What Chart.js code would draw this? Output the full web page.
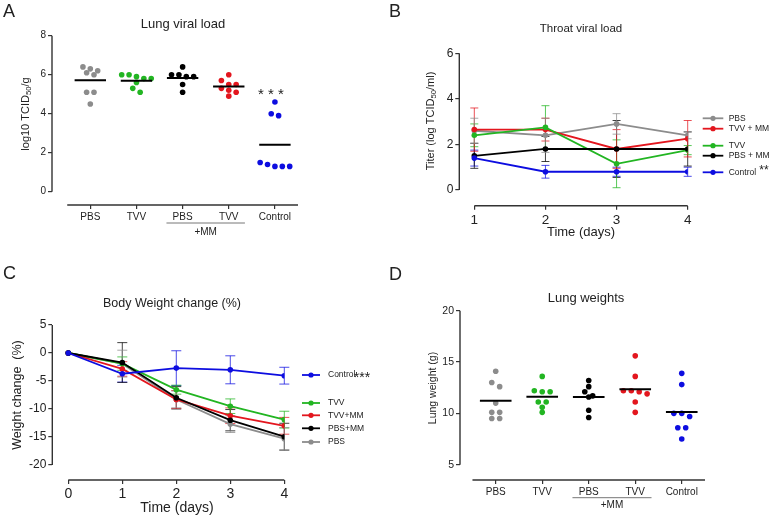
<!DOCTYPE html>
<html>
<head>
<meta charset="utf-8">
<script src="https://cdn.jsdelivr.net/npm/chart.js@4.4.1/dist/chart.umd.min.js"></script>
<style>
  html, body { margin: 0; padding: 0; background: #fff; }
  #wrap { position: relative; width: 772px; height: 518px; overflow: hidden; }
  .panel { position: absolute; width: 386px; height: 259px; }
</style>
</head>
<body>
<div id="wrap">
  <div class="panel" style="left:0;top:0"><canvas id="chartA" width="386" height="259"></canvas></div>
  <div class="panel" style="left:386px;top:0"><canvas id="chartB" width="386" height="259"></canvas></div>
  <div class="panel" style="left:0;top:259px"><canvas id="chartC" width="386" height="259"></canvas></div>
  <div class="panel" style="left:386px;top:259px"><canvas id="chartD" width="386" height="259"></canvas></div>
</div>
<script>
// ---- data ----
const groupLabels = ['PBS', 'TVV', 'PBS', 'TVV', 'Control'];

// A: lung viral load, log10 TCID50/g
const lungViralPBS = [6.4, 6.3, 6.2, 6.1, 6.0, 5.1, 5.1, 4.5];
const lungViralTVV = [6.0, 6.0, 5.9, 5.8, 5.8, 5.6, 5.3, 5.1];
const lungViralPBSMM = [6.4, 6.0, 6.0, 5.9, 5.9, 5.5, 5.1];
const lungViralTVVMM = [6.0, 5.7, 5.5, 5.5, 5.3, 5.2, 5.1, 4.9];
const lungViralControl = [4.6, 4.0, 3.9, 1.5, 1.4, 1.3, 1.3, 1.3];
const lungViralTicks = [0, 2, 4, 6, 8];

// B: throat viral load, mean and SD per day
const throatDays = [1, 2, 3, 4];
const throatPBS = [2.6, 2.4, 2.9, 2.4];
const throatPBSSd = [0.55, 0.75, 0.45, 0.15];
const throatTVVMM = [2.65, 2.65, 1.8, 2.25];
const throatTVVMMSd = [0.95, 0.5, 0.85, 0.8];
const throatTVV = [2.4, 2.75, 1.15, 1.75];
const throatTVVSd = [0.5, 0.95, 1.05, 0.2];
const throatPBSMM = [1.5, 1.8, 1.8, 1.8];
const throatPBSMMSd = [0.55, 0.55, 1.25, 0.75];
const throatControl = [1.4, 0.8, 0.8, 0.8];
const throatControlSd = [0.35, 0.28, 0.2, 0.2];
const throatTicks = [0, 2, 4, 6];

// C: body weight change (%), mean and SD per day
const weightDays = [0, 1, 2, 3, 4];
const weightControl = [0, -3.7, -2.7, -3.0, -4.05];
const weightControlSd = [0, 1.5, 3.1, 2.5, 1.5];
const weightTVV = [0, -1.9, -6.55, -9.5, -11.9];
const weightTVVSd = [0, 1.2, 0.8, 1.3, 1.5];
const weightTVVMM = [0, -2.85, -8.3, -11.2, -13.0];
const weightTVVMMSd = [0, 1.3, 1.6, 1.4, 1.5];
const weightPBSMM = [0, -1.7, -8.0, -12.0, -14.95];
const weightPBSMMSd = [0, 3.55, 2.0, 1.9, 2.4];
const weightPBS = [0, -1.9, -8.3, -12.7, -15.3];
const weightPBSSd = [0, 2.4, 1.5, 1.5, 2.0];
const weightTicks = [-20, -15, -10, -5, 0, 5];

// D: lung weights (g)
const lungWeightPBS = [14.1, 13.0, 12.6, 11.0, 10.1, 10.1, 9.5, 9.5];
const lungWeightTVV = [13.6, 12.2, 12.1, 12.1, 11.1, 11.1, 10.6, 10.1];
const lungWeightPBSMM = [13.2, 12.6, 12.1, 11.7, 11.6, 10.3, 9.6];
const lungWeightTVVMM = [15.6, 13.6, 12.2, 12.2, 12.1, 11.9, 11.1, 10.1];
const lungWeightControl = [13.9, 12.8, 10.0, 10.0, 9.7, 8.6, 8.6, 7.5];
const lungWeightTicks = [5, 10, 15, 20];

// ---- styles ----
const FONT = "'Liberation Sans', Arial, sans-serif";
const GRAY = '#8c8c8c', GREEN = '#22b522', RED = '#e3161e', BLACK = '#000000', BLUE = '#0d0de0';
const TEXT = '#222';
const AXIS = '#333';

Chart.defaults.font.family = FONT;
Chart.defaults.color = TEXT;
Chart.defaults.animation = false;

// helpers
const mean = a => a.reduce((s, v) => s + v, 0) / a.length;

// simple beeswarm: close values share a row and are spread sideways
function swarm(values, center, step, thr) {
  const rows = [];
  [...values].sort((a, b) => b - a).forEach(v => {
    const row = rows[rows.length - 1];
    if (row && row[0] - v <= thr + 1e-9) row.push(v); else rows.push([v]);
  });
  const pts = [];
  rows.forEach(row => row.forEach((v, i) => pts.push({ x: center + (i - (row.length - 1) / 2) * step, y: v })));
  return pts;
}

function dotPlotDatasets(groups, step, thr) {
  const ds = [];
  groups.forEach((g, i) => {
    const m = mean(g.values);
    ds.push({ type: 'line', data: [{ x: i + 1 - 0.34, y: m }, { x: i + 1 + 0.34, y: m }],
      borderColor: '#000', borderWidth: 2, pointRadius: 0 });
    ds.push({ type: 'scatter', data: swarm(g.values, i + 1, step, thr),
      backgroundColor: g.color, borderWidth: 0, pointRadius: 2.8, pointHoverRadius: 2.8 });
  });
  return ds;
}

function seriesDatasets(series, xs) {
  return series.map(s => ({
    type: 'line', label: s.label, data: s.values.map((v, i) => ({ x: xs[i], y: v })),
    borderColor: s.color, backgroundColor: s.color, borderWidth: 1.8,
    pointRadius: 2.8, pointBorderWidth: 0, tension: 0
  }));
}

function yAxis(ticks, min, max, width, size, pad) {
  return {
    type: 'linear', min, max,
    afterFit: s => { s.width = width; },
    afterBuildTicks: s => { s.ticks = ticks.map(v => ({ value: v })); },
    grid: { display: true, drawOnChartArea: false, drawTicks: true, tickLength: 4, color: AXIS, lineWidth: 1.2 },
    border: { display: false },
    ticks: { font: { size }, padding: pad, color: TEXT }
  };
}

function xAxis(ticks, min, max, height, size, pad, labels) {
  return {
    type: 'linear', min, max,
    afterFit: s => { s.height = height; },
    afterBuildTicks: s => { s.ticks = ticks.map(v => ({ value: v })); },
    grid: { display: true, drawOnChartArea: false, drawTicks: true, tickLength: 4, color: AXIS, lineWidth: 1.2 },
    border: { display: false },
    ticks: { font: { size }, padding: pad, color: TEXT, autoSkip: false, maxRotation: 0, minRotation: 0,
      callback: labels ? (v, i) => labels[i] : v => v }
  };
}

function drawRich(ctx, parts, cx, cy, size, rotate) {
  ctx.save();
  ctx.translate(cx, cy);
  if (rotate) ctx.rotate(-Math.PI / 2);
  const fonts = parts.map(p => `${p.sub ? size * 0.7 : size}px ${FONT}`);
  let total = 0;
  const widths = parts.map((p, i) => { ctx.font = fonts[i]; const w = ctx.measureText(p.t).width; total += w; return w; });
  let x = -total / 2;
  ctx.textBaseline = 'middle';
  ctx.textAlign = 'left';
  ctx.fillStyle = TEXT;
  parts.forEach((p, i) => { ctx.font = fonts[i]; ctx.fillText(p.t, x, p.sub ? size * 0.3 : 0); x += widths[i]; });
  ctx.restore();
}

// draws the GraphPad-like detached axes, titles, error bars and legends
const decor = {
  id: 'decor',
  beforeDatasetsDraw(chart, args, o) {
    const ctx = chart.ctx, xs = chart.scales.x, ys = chart.scales.y;
    ctx.save();
    (o.errorBars || []).forEach(eb => {
      ctx.strokeStyle = eb.color;
      ctx.globalAlpha = 0.75;
      ctx.lineWidth = 1;
      eb.ys.forEach((v, i) => {
        const e = eb.err[i];
        if (!e) return;
        const px = xs.getPixelForValue(eb.xs[i]);
        const top = ys.getPixelForValue(v + e), bot = ys.getPixelForValue(v - e);
        ctx.beginPath();
        ctx.moveTo(px, top); ctx.lineTo(px, bot);
        ctx.moveTo(px - eb.cap, top); ctx.lineTo(px + eb.cap, top);
        ctx.moveTo(px - eb.cap, bot); ctx.lineTo(px + eb.cap, bot);
        ctx.stroke();
      });
    });
    ctx.restore();
  },
  afterDraw(chart, args, o) {
    const ctx = chart.ctx, xs = chart.scales.x, ys = chart.scales.y, area = chart.chartArea;
    ctx.save();
    // axis lines
    ctx.strokeStyle = AXIS;
    ctx.lineWidth = 1.4;
    ctx.beginPath();
    ctx.moveTo(area.left, ys.getPixelForValue(o.yLine[0]));
    ctx.lineTo(area.left, ys.getPixelForValue(o.yLine[1]));
    ctx.moveTo(xs.getPixelForValue(o.xLine[0]), area.bottom);
    ctx.lineTo(xs.getPixelForValue(o.xLine[1]), area.bottom);
    ctx.stroke();

    ctx.fillStyle = TEXT;
    // panel letter
    ctx.font = `18px ${FONT}`;
    ctx.textAlign = 'left';
    ctx.textBaseline = 'top';
    ctx.fillText(o.letter.text, o.letter.x, o.letter.y);
    // title
    ctx.font = `${o.title.size}px ${FONT}`;
    ctx.textAlign = 'center';
    ctx.textBaseline = 'middle';
    ctx.fillText(o.title.text, o.title.x, o.title.y);
    if (o.xTitle) {
      ctx.font = `${o.xTitle.size}px ${FONT}`;
      ctx.fillText(o.xTitle.text, o.xTitle.x, o.xTitle.y);
    }
    drawRich(ctx, o.yTitle.parts, o.yTitle.x, o.yTitle.y, o.yTitle.size, true);

    // "+MM" bracket under the category axis
    if (o.bracket) {
      const b = o.bracket;
      ctx.strokeStyle = '#777';
      ctx.lineWidth = 1;
      ctx.beginPath();
      ctx.moveTo(xs.getPixelForValue(b.from), b.y);
      ctx.lineTo(xs.getPixelForValue(b.to), b.y);
      ctx.stroke();
      ctx.font = `${b.size}px ${FONT}`;
      ctx.fillText(b.text, xs.getPixelForValue((b.from + b.to) / 2), b.ty);
    }

    // legend
    if (o.legend) {
      const L = o.legend;
      L.rows.forEach(r => {
        const ds = chart.data.datasets.find(d => d.label === r.label);
        ctx.strokeStyle = ds.borderColor;
        ctx.fillStyle = ds.borderColor;
        ctx.lineWidth = 1.8;
        ctx.beginPath();
        ctx.moveTo(L.x1, r.y); ctx.lineTo(L.x2, r.y);
        ctx.stroke();
        ctx.beginPath();
        ctx.arc((L.x1 + L.x2) / 2, r.y, 2.6, 0, Math.PI * 2);
        ctx.fill();
        ctx.fillStyle = TEXT;
        ctx.font = `${L.size}px ${FONT}`;
        ctx.textAlign = 'left';
        ctx.textBaseline = 'middle';
        ctx.fillText(r.label, L.tx, r.y);
      });
    }

    // significance stars
    (o.stars || []).forEach(s => {
      ctx.fillStyle = TEXT;
      ctx.font = `${s.size}px ${FONT}`;
      ctx.textAlign = 'center';
      ctx.textBaseline = 'alphabetic';
      ctx.fillText(s.text, s.x, s.y);
    });
    ctx.restore();
  }
};

const basePlugins = { legend: { display: false }, tooltip: { enabled: false } };

// ---- A: lung viral load ----
new Chart(document.getElementById('chartA'), {
  type: 'scatter',
  data: {
    datasets: dotPlotDatasets([
      { values: lungViralPBS, color: GRAY },
      { values: lungViralTVV, color: GREEN },
      { values: lungViralPBSMM, color: BLACK },
      { values: lungViralTVVMM, color: RED },
      { values: lungViralControl, color: BLUE }
    ], 0.16, 0.23)
  },
  options: {
    responsive: false, events: [],
    layout: { padding: { top: 35.7, right: 88, left: 0, bottom: 0 } },
    scales: {
      x: xAxis([1, 2, 3, 4, 5], 0.17, 5.5, 54, 10, 2, groupLabels),
      y: yAxis(lungViralTicks, -0.68, 8, 52, 10, 2)
    },
    plugins: Object.assign({}, basePlugins, {
      decor: {
        letter: { text: 'A', x: 3, y: 3 },
        title: { text: 'Lung viral load', x: 183, y: 24, size: 13 },
        yTitle: { parts: [{ t: 'log10 TCID' }, { t: '50', sub: true }, { t: '/g' }], x: 26, y: 114, size: 11 },
        yLine: [0, 8], xLine: [0.5, 5.5],
        bracket: { text: '+MM', from: 2.65, to: 4.35, y: 223, ty: 232, size: 10 },
        stars: [{ text: '* * *', x: 271, y: 98.5, size: 15 }]
      }
    })
  },
  plugins: [decor]
});

// ---- B: throat viral load ----
const throatSeries = [
  { label: 'Control', values: throatControl, err: throatControlSd, color: BLUE },
  { label: 'PBS + MM', values: throatPBSMM, err: throatPBSMMSd, color: BLACK },
  { label: 'TVV', values: throatTVV, err: throatTVVSd, color: GREEN },
  { label: 'TVV + MM', values: throatTVVMM, err: throatTVVMMSd, color: RED },
  { label: 'PBS', values: throatPBS, err: throatPBSSd, color: GRAY }
];
new Chart(document.getElementById('chartB'), {
  type: 'line',
  data: { datasets: seriesDatasets(throatSeries, throatDays) },
  options: {
    responsive: false, events: [],
    layout: { padding: { top: 53.3, right: 84.3, left: 0, bottom: 0 } },
    scales: {
      x: xAxis(throatDays, 0.789, 4, 53.3, 13.5, 2),
      y: yAxis(throatTicks, -0.69, 6, 73.3, 12, 2)
    },
    plugins: Object.assign({}, basePlugins, {
      decor: {
        letter: { text: 'B', x: 3, y: 3 },
        title: { text: 'Throat viral load', x: 195, y: 29, size: 11.5 },
        xTitle: { text: 'Time (days)', x: 195, y: 232, size: 13 },
        yTitle: { parts: [{ t: 'Titer (log TCID' }, { t: '50', sub: true }, { t: '/ml)' }], x: 45, y: 121, size: 11 },
        yLine: [0, 6], xLine: [1, 4],
        errorBars: throatSeries.map(s => ({ xs: throatDays, ys: s.values, err: s.err, color: s.color, cap: 4 })),
        legend: {
          x1: 316.7, x2: 337.3, tx: 342.7, size: 8.5,
          rows: [
            { label: 'PBS', y: 118.3 }, { label: 'TVV + MM', y: 128.7 },
            { label: 'TVV', y: 145.7 }, { label: 'PBS + MM', y: 155.7 },
            { label: 'Control', y: 172.3 }
          ]
        },
        stars: [{ text: '**', x: 378, y: 174, size: 12 }]
      }
    })
  },
  plugins: [decor]
});

// ---- C: body weight change ----
const weightSeries = [
  { label: 'Control', values: weightControl, err: weightControlSd, color: BLUE },
  { label: 'PBS+MM', values: weightPBSMM, err: weightPBSMMSd, color: BLACK },
  { label: 'TVV+MM', values: weightTVVMM, err: weightTVVMMSd, color: RED },
  { label: 'TVV', values: weightTVV, err: weightTVVSd, color: GREEN },
  { label: 'PBS', values: weightPBS, err: weightPBSSd, color: GRAY }
];
new Chart(document.getElementById('chartC'), {
  type: 'line',
  data: { datasets: seriesDatasets(weightSeries, weightDays) },
  options: {
    responsive: false, events: [],
    layout: { padding: { top: 66, right: 101.7, left: 0, bottom: 0 } },
    scales: {
      x: xAxis(weightDays, -0.296, 4, 38, 14, 2),
      y: yAxis(weightTicks, -22.68, 5, 52.3, 12, 2)
    },
    plugins: Object.assign({}, basePlugins, {
      decor: {
        letter: { text: 'C', x: 3, y: 6 },
        title: { text: 'Body Weight change (%)', x: 172, y: 45, size: 12.5 },
        xTitle: { text: 'Time (days)', x: 177, y: 249, size: 14 },
        yTitle: { parts: [{ t: 'Weight change  (%)' }], x: 18, y: 136, size: 12.5 },
        yLine: [-20, 5], xLine: [0, 4],
        errorBars: weightSeries.map(s => ({ xs: weightDays, ys: s.values, err: s.err, color: s.color, cap: 5 })),
        legend: {
          x1: 302, x2: 320, tx: 328, size: 8.5,
          rows: [
            { label: 'Control', y: 116 }, { label: 'TVV', y: 144 },
            { label: 'TVV+MM', y: 156.3 }, { label: 'PBS+MM', y: 169.3 },
            { label: 'PBS', y: 183 }
          ]
        },
        stars: [{ text: '***', x: 362, y: 122.5, size: 14 }]
      }
    })
  },
  plugins: [decor]
});

// ---- D: lung weights ----
new Chart(document.getElementById('chartD'), {
  type: 'scatter',
  data: {
    datasets: dotPlotDatasets([
      { values: lungWeightPBS, color: GRAY },
      { values: lungWeightTVV, color: GREEN },
      { values: lungWeightPBSMM, color: BLACK },
      { values: lungWeightTVVMM, color: RED },
      { values: lungWeightControl, color: BLUE }
    ], 0.17, 0.44)
  },
  options: {
    responsive: false, events: [],
    layout: { padding: { top: 51.7, right: 67, left: 0, bottom: 0 } },
    scales: {
      x: xAxis([1, 2, 3, 4, 5], 0.232, 5.5, 38, 10, 2, groupLabels),
      y: yAxis(lungWeightTicks, 3.51, 20, 74, 10.5, 2)
    },
    plugins: Object.assign({}, basePlugins, {
      decor: {
        letter: { text: 'D', x: 3, y: 7 },
        title: { text: 'Lung weights', x: 200, y: 39, size: 13 },
        yTitle: { parts: [{ t: 'Lung weight (g)' }], x: 47, y: 129, size: 10.5 },
        yLine: [5, 20], xLine: [0.5, 5.5],
        bracket: { text: '+MM', from: 2.65, to: 4.35, y: 238.7, ty: 246.7, size: 10 }
      }
    })
  },
  plugins: [decor]
});
</script>
</body>
</html>
